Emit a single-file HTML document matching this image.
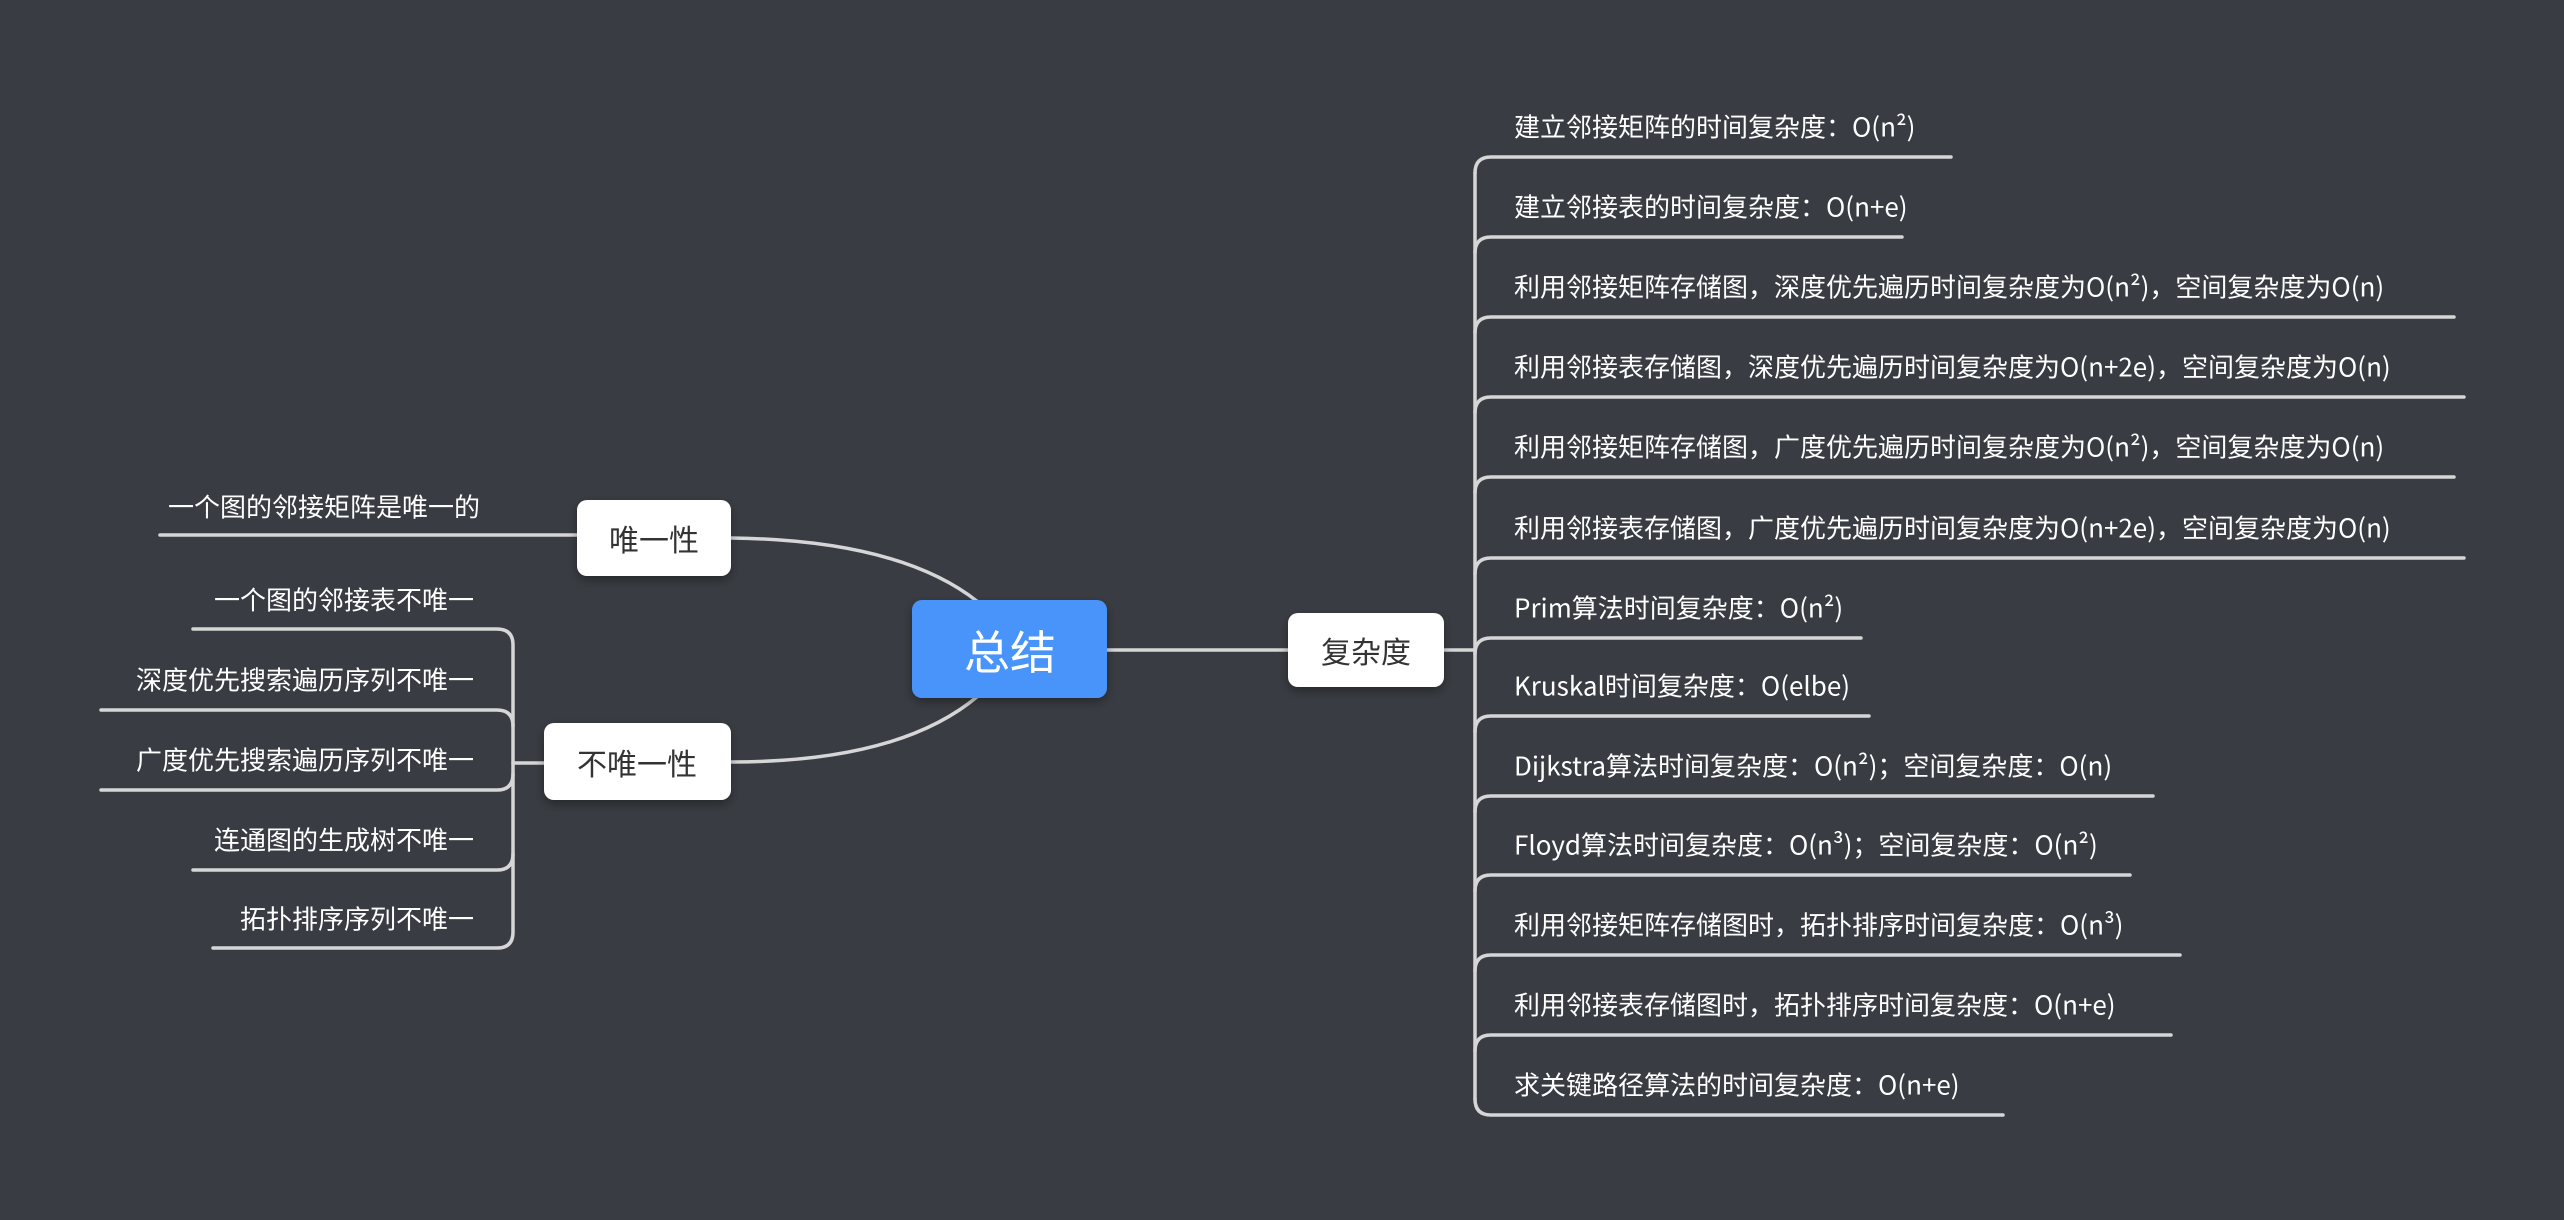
<!DOCTYPE html>
<html><head><meta charset="utf-8"><style>
html,body{margin:0;padding:0;background:#393c42;}
svg{display:block;}
text{font-family:"Noto Sans CJK SC","Liberation Sans",sans-serif;}
</style></head><body>
<svg width="2564" height="1220" viewBox="0 0 2564 1220" xmlns="http://www.w3.org/2000/svg">
<defs><filter id="sh" x="-20%" y="-20%" width="140%" height="160%"><feDropShadow dx="0" dy="4" stdDeviation="5" flood-color="#000" flood-opacity="0.35"/></filter></defs>
<rect width="2564" height="1220" fill="#393c42"/>
<g fill="none" stroke="#d6d6d6" stroke-width="3.5" stroke-linecap="round">
<path d="M978,602 Q900,540 731,538"/>
<path d="M978,696 Q900,762 731,762"/>
<path d="M1107,650 L1288,650"/>
<path d="M1444,650 L1475,650"/>
<path d="M577,535 L160,535"/>
<path d="M544,763 L513,763"/>
<path d="M193,629 L497,629 Q513,629 513,645 L513,932 Q513,948 497,948 L213,948"/>
<path d="M101,710 L497,710 Q513,710 513,726"/>
<path d="M101,790 L497,790 Q513,790 513,774"/>
<path d="M193,870 L497,870 Q513,870 513,854"/>
<path d="M1475,173 L1475,1099"/>
<path d="M1475,173 Q1475,157 1491,157 L1951,157"/>
<path d="M1475,253 Q1475,237 1491,237 L1902,237"/>
<path d="M1475,333 Q1475,317 1491,317 L2454,317"/>
<path d="M1475,413 Q1475,397 1491,397 L2464,397"/>
<path d="M1475,493 Q1475,477 1491,477 L2454,477"/>
<path d="M1475,574 Q1475,558 1491,558 L2464,558"/>
<path d="M1475,654 Q1475,638 1491,638 L1861,638"/>
<path d="M1475,732 Q1475,716 1491,716 L1869,716"/>
<path d="M1475,812 Q1475,796 1491,796 L2153,796"/>
<path d="M1475,891 Q1475,875 1491,875 L2130,875"/>
<path d="M1475,971 Q1475,955 1491,955 L2180,955"/>
<path d="M1475,1051 Q1475,1035 1491,1035 L2171,1035"/>
<path d="M1475,1099 Q1475,1115 1491,1115 L2003,1115"/>
</g>
<rect x="912" y="600" width="195" height="98" rx="10" fill="#4a94fb" filter="url(#sh)"/>
<text x="1010" y="650" font-size="46" fill="#fff" text-anchor="middle" dominant-baseline="central">总结</text>
<rect x="1288" y="613" width="156" height="74" rx="10" fill="#fff" filter="url(#sh)"/>
<text x="1366" y="650" font-size="30" fill="#333" text-anchor="middle" dominant-baseline="central">复杂度</text>
<rect x="577" y="500" width="154" height="76" rx="10" fill="#fff" filter="url(#sh)"/>
<text x="654" y="538" font-size="30" fill="#333" text-anchor="middle" dominant-baseline="central">唯一性</text>
<rect x="544" y="723" width="187" height="77" rx="10" fill="#fff" filter="url(#sh)"/>
<text x="637" y="762" font-size="30" fill="#333" text-anchor="middle" dominant-baseline="central">不唯一性</text>
<g font-size="26" fill="#fff" dominant-baseline="central">
<text x="168" y="506">一个图的邻接矩阵是唯一的</text>
<g text-anchor="end">
<text x="474" y="599">一个图的邻接表不唯一</text>
<text x="474" y="679">深度优先搜索遍历序列不唯一</text>
<text x="474" y="759">广度优先搜索遍历序列不唯一</text>
<text x="474" y="839">连通图的生成树不唯一</text>
<text x="474" y="918">拓扑排序序列不唯一</text>
</g>
<text x="1514" y="126">建立邻接矩阵的时间复杂度：O(n²)</text>
<text x="1514" y="206">建立邻接表的时间复杂度：O(n+e)</text>
<text x="1514" y="286">利用邻接矩阵存储图，深度优先遍历时间复杂度为O(n²)，空间复杂度为O(n)</text>
<text x="1514" y="366">利用邻接表存储图，深度优先遍历时间复杂度为O(n+2e)，空间复杂度为O(n)</text>
<text x="1514" y="446">利用邻接矩阵存储图，广度优先遍历时间复杂度为O(n²)，空间复杂度为O(n)</text>
<text x="1514" y="527">利用邻接表存储图，广度优先遍历时间复杂度为O(n+2e)，空间复杂度为O(n)</text>
<text x="1514" y="607">Prim算法时间复杂度：O(n²)</text>
<text x="1514" y="685">Kruskal时间复杂度：O(elbe)</text>
<text x="1514" y="765">Dijkstra算法时间复杂度：O(n²)；空间复杂度：O(n)</text>
<text x="1514" y="844">Floyd算法时间复杂度：O(n³)；空间复杂度：O(n²)</text>
<text x="1514" y="924">利用邻接矩阵存储图时，拓扑排序时间复杂度：O(n³)</text>
<text x="1514" y="1004">利用邻接表存储图时，拓扑排序时间复杂度：O(n+e)</text>
<text x="1514" y="1084">求关键路径算法的时间复杂度：O(n+e)</text>
</g>
</svg>
</body></html>
